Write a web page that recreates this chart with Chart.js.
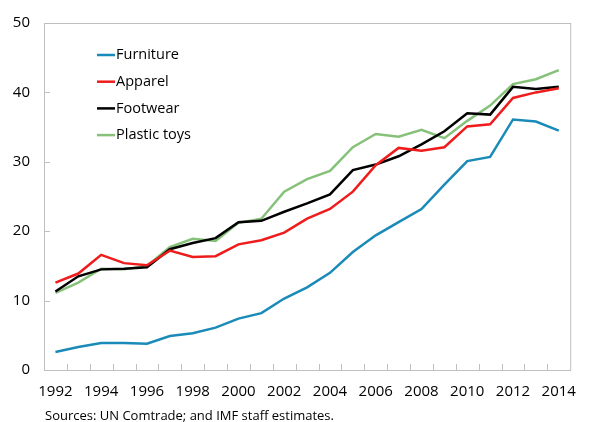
<!DOCTYPE html>
<html lang="en">
<head>
<meta charset="UTF-8" />
<title>Export shares</title>
<script src="https://cdn.jsdelivr.net/npm/chart.js"></script>
<style>
  body { margin:0; background:#fff; font-family:"Open Sans", sans-serif; }
  .wrap { position:relative; width:589px; height:422px; }
  .source { position:absolute; left:45px; top:406px; font-size:13px; color:#000; }
</style>
</head>
<body>
<div class="wrap">
  <canvas id="chart" width="589" height="422"></canvas>
  <div class="source">Sources: UN Comtrade; and IMF staff estimates.</div>
</div>
<script>
const years = ['1992','1993','1994','1995','1996','1997','1998','1999','2000','2001','2002','2003',
  '2004','2005','2006','2007','2008','2009','2010','2011','2012','2013','2014'];
const furniture = [2.6,3.3,3.9,3.9,3.8,4.9,5.3,6.1,7.4,8.2,10.3,11.9,14.0,17.0,19.4,21.3,23.2,26.7,30.1,30.7,36.1,35.8,34.5];
const apparel   = [12.6,13.9,16.6,15.4,15.1,17.2,16.3,16.4,18.1,18.7,19.8,21.8,23.2,25.7,29.5,32.0,31.6,32.1,35.1,35.4,39.2,40.0,40.6];
const footwear  = [11.3,13.5,14.5,14.6,14.8,17.4,18.3,19.0,21.3,21.5,22.8,24.0,25.3,28.8,29.6,30.8,32.5,34.4,37.0,36.8,40.8,40.5,40.8];
const toys      = [11.1,12.6,14.6,14.5,15.0,17.7,18.9,18.6,21.2,21.8,25.7,27.5,28.7,32.1,34.0,33.6,34.6,33.4,35.9,38.1,41.2,41.9,43.2];
const seriesNames = ['Furniture','Apparel','Footwear','Plastic toys'];
const seriesColors = ['#1a8bb8','#ee1c1c','#000000','#86c17a'];
const yTicks = [0,10,20,30,40,50];

const axisGrey = '#bfbfbf';

// plot frame, inside tick marks and legend inside the plot
const framePlugin = {
  id:'frame',
  afterDraw(chart){
    const {ctx, chartArea:a, scales:{x,y}} = chart;
    ctx.save();
    ctx.strokeStyle = axisGrey;
    ctx.lineWidth = 1;
    ctx.strokeRect(a.left+0.5, a.top+0.5, a.right-a.left, a.bottom-a.top);
    ctx.beginPath();
    const n = years.length;
    const w = (a.right-a.left)/n;
    for(let i=1;i<n;i++){
      const px = Math.round(a.left + i*w)+0.5;
      ctx.moveTo(px, a.bottom); ctx.lineTo(px, a.bottom-6);
    }
    yTicks.forEach(v=>{
      const py = Math.round(y.getPixelForValue(v))+0.5;
      ctx.moveTo(a.left, py); ctx.lineTo(a.left+6, py);
    });
    ctx.stroke();

    // legend
    ctx.font = '14.5px "Open Sans", sans-serif';
    ctx.textBaseline = 'middle';
    ctx.fillStyle = '#000';
    chart.data.datasets.forEach((ds,i)=>{
      const ly = 55 + i*26.7;
      ctx.strokeStyle = ds.borderColor;
      ctx.lineWidth = 2.5;
      ctx.beginPath(); ctx.moveTo(97, ly); ctx.lineTo(115, ly); ctx.stroke();
      ctx.fillText(ds.label, 116, ly);
    });
    ctx.restore();
  }
};

new Chart(document.getElementById('chart'), {
  type:'line',
  data:{
    labels:years,
    datasets:[
      {label:seriesNames[0], data:furniture, borderColor:seriesColors[0]},
      {label:seriesNames[1], data:apparel,   borderColor:seriesColors[1]},
      {label:seriesNames[2], data:footwear,  borderColor:seriesColors[2]},
      {label:seriesNames[3], data:toys,      borderColor:seriesColors[3]}
    ].map(d=>({...d, borderWidth:2.5, pointRadius:0, tension:0, fill:false}))
  },
  options:{
    responsive:false,
    animation:false,
    layout:{padding:{top:22, right:4, left:0, bottom:0}},
    plugins:{legend:{display:false}, tooltip:{enabled:false}},
    scales:{
      x:{
        offset:true,
        grid:{display:false, drawTicks:false},
        border:{display:false},
        afterFit(s){ s.height = 52; },
        ticks:{
          autoSkip:false, maxRotation:0, padding:13, color:'#000',
          font:{family:'"Open Sans", sans-serif', size:15},
          callback(v,i){ return i%2===0 ? years[i] : ''; }
        }
      },
      y:{
        min:0, max:50,
        grid:{display:false, drawTicks:false},
        border:{display:false},
        afterFit(s){ s.width = 44; },
        afterBuildTicks(s){ s.ticks = yTicks.map(v=>({value:v})); },
        ticks:{
          padding:14, color:'#000',
          font:{family:'"Open Sans", sans-serif', size:15}
        }
      }
    }
  },
  plugins:[framePlugin]
});
</script>
</body>
</html>
